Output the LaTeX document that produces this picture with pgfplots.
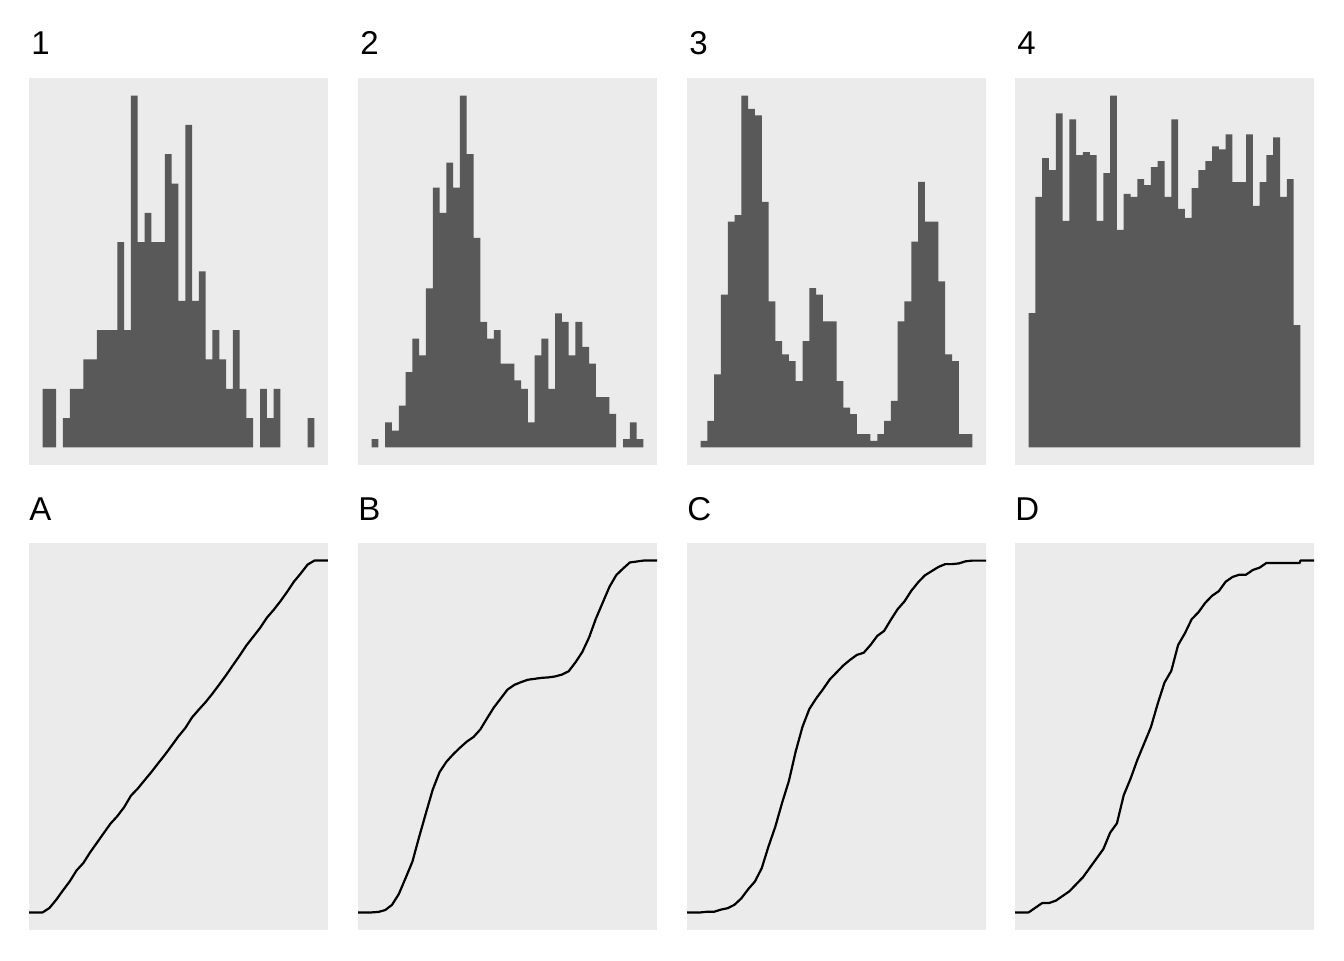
\documentclass[border=0pt]{standalone}
\usepackage{fontspec}
\setmainfont{Liberation Sans}
\usepackage{pgfplots}
\pgfplotsset{compat=1.18}
\definecolor{histgray}{HTML}{595959}
\definecolor{bggray}{HTML}{EBEBEB}
\pgfplotsset{
  panel/.style={
    scale only axis, width=149.5pt, height=193.5pt,
    anchor=south west,
    axis line style={draw=none}, ticks=none,
    axis background/.style={fill=bggray},
    xmin=-2, xmax=42, clip=true,
  },
  hist/.style={fill=histgray, draw=none, const plot},
  ecdf/.style={black, line width=1.1pt, line join=round},
}
\begin{document}
\begin{tikzpicture}
\path[use as bounding box] (0,0) rectangle (672pt,480pt);
% ---------- top row: histograms ----------
\begin{axis}[panel, at={(14.5pt,247.5pt)}, ymin=-0.6, ymax=12.6]
\addplot[hist] coordinates {(0,0)(0,2)(1,2)(2,2)(2,0)};
\addplot[hist] coordinates {(3,0)(3,1)(4,2)(5,2)(6,3)(7,3)(8,4)(9,4)(10,4)(11,7)(12,4)(13,12)(14,7)(15,8)(16,7)(17,7)(18,10)(19,9)(20,5)(21,11)(22,5)(23,6)(24,3)(25,4)(26,3)(27,2)(28,4)(29,2)(30,1)(31,1)(31,0)};
\addplot[hist] coordinates {(32,0)(32,2)(33,1)(34,2)(35,2)(35,0)};
\addplot[hist] coordinates {(39,0)(39,1)(40,1)(40,0)};
\end{axis}
\begin{axis}[panel, at={(179pt,247.5pt)}, ymin=-2.1, ymax=44.1]
\addplot[hist] coordinates {(0,0)(0,1)(1,1)(1,0)};
\addplot[hist] coordinates {(2,0)(2,3)(3,2)(4,5)(5,9)(6,13)(7,11)(8,19)(9,31)(10,28)(11,34)(12,31)(13,42)(14,35)(15,25)(16,15)(17,13)(18,14)(19,10)(20,10)(21,8)(22,7)(23,3)(24,11)(25,13)(26,7)(27,16)(28,15)(29,11)(30,15)(31,12)(32,10)(33,6)(34,6)(35,4)(36,4)(36,0)};
\addplot[hist] coordinates {(37,0)(37,1)(38,3)(39,1)(40,1)(40,0)};
\end{axis}
\begin{axis}[panel, at={(343.5pt,247.5pt)}, ymin=-2.65, ymax=55.65]
\addplot[hist] coordinates {(0,0)(0,1)(1,4)(2,11)(3,23)(4,34)(5,35)(6,53)(7,51)(8,50)(9,37)(10,22)(11,16)(12,14)(13,13)(14,10)(15,16)(16,24)(17,23)(18,19)(19,19)(20,10)(21,6)(22,5)(23,2)(24,2)(25,1)(26,2)(27,4)(28,7)(29,19)(30,22)(31,31)(32,40)(33,34)(34,34)(35,25)(36,14)(37,13)(38,2)(39,2)(40,2)(40,0)};
\end{axis}
\begin{axis}[panel, at={(507.5pt,247.5pt)}, ymin=-5.9, ymax=123.9]
\addplot[hist] coordinates {(0,0)(0,45)(1,84)(2,97)(3,93)(4,112)(5,76)(6,110)(7,98)(8,99)(9,98)(10,76)(11,92)(12,118)(13,73)(14,85)(15,84)(16,90)(17,88)(18,94)(19,96)(20,84)(21,110)(22,80)(23,77)(24,87)(25,93)(26,96)(27,101)(28,100)(29,105)(30,89)(31,89)(32,105)(33,81)(34,89)(35,98)(36,104)(37,84)(38,90)(39,41)(40,41)(40,0)};
\end{axis}
% ---------- bottom row: ECDFs ----------
\begin{axis}[panel, at={(14.5pt,15pt)}, ymin=-180.55, ymax=3791.55]
\addplot[ecdf] coordinates {(-2,0)(0,0)(1,45)(2,129)(3,226)(4,319)(5,431)(6,507)(7,617)(8,715)(9,814)(10,912)(11,988)(12,1080)(13,1198)(14,1271)(15,1356)(16,1440)(17,1530)(18,1618)(19,1712)(20,1808)(21,1892)(22,2002)(23,2082)(24,2159)(25,2246)(26,2339)(27,2435)(28,2536)(29,2636)(30,2741)(31,2830)(32,2919)(33,3024)(34,3105)(35,3194)(36,3292)(37,3396)(38,3480)(39,3570)(40,3611)(42,3611)};
\end{axis}
\begin{axis}[panel, at={(179pt,15pt)}, ymin=-37.5, ymax=787.5]
\addplot[ecdf] coordinates {(-2,0)(0,0)(1,1)(2,5)(3,16)(4,39)(5,73)(6,108)(7,161)(8,212)(9,262)(10,299)(11,321)(12,337)(13,351)(14,364)(15,374)(16,390)(17,414)(18,437)(19,456)(20,475)(21,485)(22,491)(23,496)(24,498)(25,500)(26,501)(27,503)(28,507)(29,514)(30,533)(31,555)(32,586)(33,626)(34,660)(35,694)(36,719)(37,733)(38,746)(39,748)(40,750)(42,750)};
\end{axis}
\begin{axis}[panel, at={(343.5pt,15pt)}, ymin=-25, ymax=525]
\addplot[ecdf] coordinates {(-2,0)(0,0)(1,1)(2,1)(3,4)(4,6)(5,11)(6,20)(7,33)(8,44)(9,63)(10,94)(11,122)(12,156)(13,187)(14,229)(15,264)(16,289)(17,304)(18,317)(19,331)(20,341)(21,351)(22,359)(23,366)(24,369)(25,380)(26,393)(27,400)(28,416)(29,431)(30,442)(31,457)(32,469)(33,479)(34,485)(35,491)(36,495)(37,495)(38,496)(39,499)(40,500)(42,500)};
\end{axis}
\begin{axis}[panel, at={(507.5pt,15pt)}, ymin=-7.5, ymax=157.5]
\addplot[ecdf] coordinates {(-2,0)(0,0)(1,2)(2,4)(3,4)(4,5)(5,7)(6,9)(7,12)(8,15)(9,19)(10,23)(11,27)(12,34)(13,38)(14,50)(15,57)(16,65)(17,72)(18,79)(19,89)(20,98)(21,103)(22,114)(23,119)(24,125)(25,128)(26,132)(27,135)(28,137)(29,141)(30,143)(31,144)(32,144)(33,146)(34,147)(35,149)(39.9,149)(40,150)(42,150)};
\end{axis}
% ---------- panel titles ----------
\foreach \x/\t in {14.5pt/1, 179pt/2, 343.5pt/3, 507.5pt/4}
  \node[anchor=base west, inner sep=0pt, font=\fontsize{16.5pt}{19pt}\selectfont] at (\x+1pt,452.5pt) {\t};
\foreach \x/\t in {14.5pt/A, 179pt/B, 343.5pt/C, 507.5pt/D}
  \node[anchor=base west, inner sep=0pt, font=\fontsize{16.5pt}{19pt}\selectfont] at (\x,220pt) {\t};
\end{tikzpicture}
\end{document}
